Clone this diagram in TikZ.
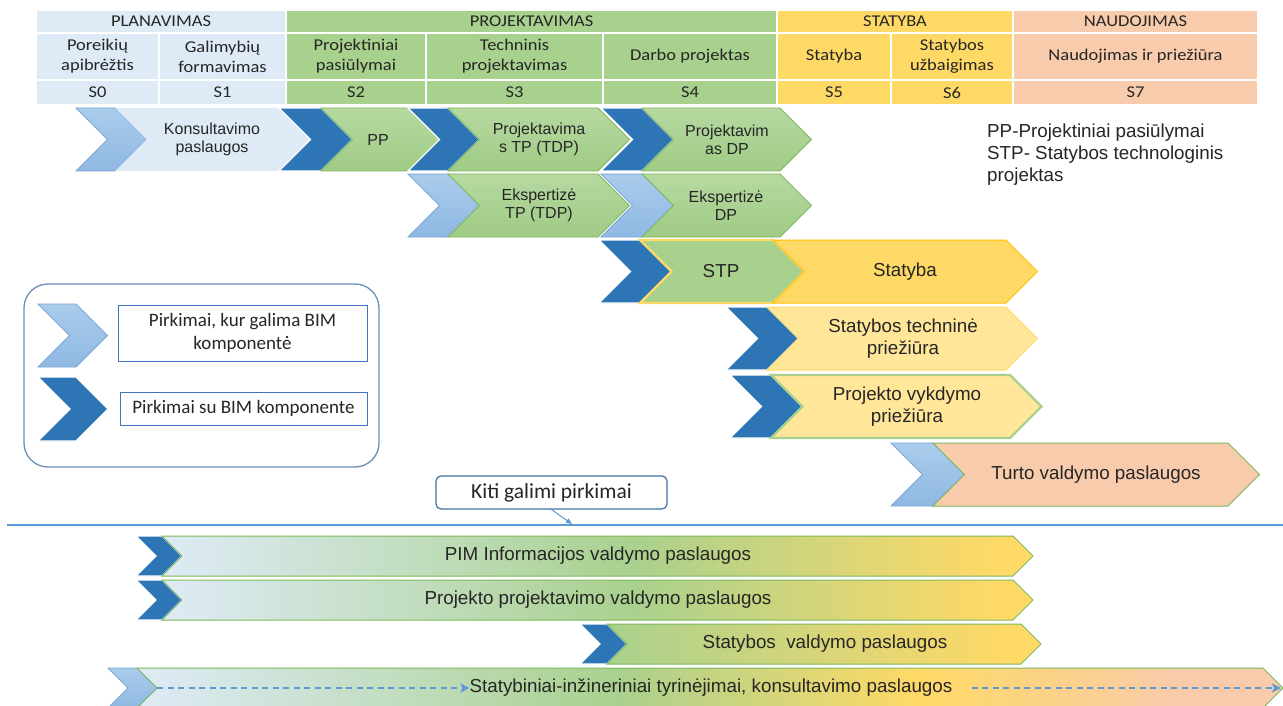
\documentclass[tikz,border=0pt]{standalone}
\usepackage{fontspec}
\setmainfont{Liberation Sans}
\newfontfamily\calfont{Carlito}
\newfontfamily\calwide[FakeStretch=1.12]{Carlito}
\usetikzlibrary{arrows.meta}
\definecolor{hBlue}{HTML}{DEEBF7}
\definecolor{hGreen}{HTML}{A9D18E}
\definecolor{hYellow}{HTML}{FFD966}
\definecolor{hPeach}{HTML}{F8CBAD}
\definecolor{chDark}{HTML}{2E75B6}
\definecolor{chLightT}{HTML}{AACCEC}
\definecolor{chLightB}{HTML}{8FB8E2}
\definecolor{chLightD}{HTML}{7AA6D8}
\definecolor{grTop}{HTML}{B6D9A1}
\definecolor{grBot}{HTML}{A0CB85}
\definecolor{grLine}{HTML}{7DB95A}
\definecolor{yeLine}{HTML}{FFC000}
\definecolor{lYellow}{HTML}{FFE699}
\definecolor{txtc}{HTML}{262626}
\definecolor{arrBlue}{HTML}{5B9BD5}
\definecolor{legLine}{HTML}{6D8EB6}
\definecolor{boxLine}{HTML}{4472C4}
\definecolor{kitiLine}{HTML}{41719C}
\pgfdeclarehorizontalshading{gradA}{100bp}{color(0bp)=(hBlue); color(25bp)=(hBlue); color(52bp)=(hGreen); color(73bp)=(hYellow); color(100bp)=(hYellow)}
\pgfdeclarehorizontalshading{gradB}{100bp}{color(0bp)=(hGreen); color(25bp)=(hGreen); color(71bp)=(hYellow); color(100bp)=(hYellow)}
\pgfdeclarehorizontalshading{gradC}{100bp}{color(0bp)=(hBlue); color(25bp)=(hBlue); color(46bp)=(hGreen); color(59bp)=(hYellow); color(71bp)=(hPeach); color(100bp)=(hPeach)}
\newcommand{\mychev}[5]{\path[#1] (#2,#4) -- (#3,#4) -- ({#3+(#5-#4)/2},{(#4+#5)/2}) -- (#3,#5) -- (#2,#5) -- ({#2+(#5-#4)/2},{(#4+#5)/2}) -- cycle;}
\tikzset{
  hcell/.style={draw=white, line width=1.5pt, inner sep=0pt, align=center, text=txtc, font=\calwide\fontsize{16.5}{20}\selectfont},
  darkch/.style={fill=chDark, draw=white, line width=1.2pt},
  lightch/.style={top color=chLightT, bottom color=chLightB, draw=chLightD, line width=0.8pt},
  konssh/.style={fill=hBlue},
  greensh/.style={top color=grTop, bottom color=grBot, draw=grLine, line width=0.9pt},
  stpsh/.style={fill=hGreen, draw=hYellow, line width=2.2pt},
  statsh/.style={fill=hYellow, draw=yeLine, line width=1pt},
  lysh/.style={fill=lYellow, draw=hYellow, line width=1pt},
  pvsh/.style={fill=lYellow, draw=hGreen, line width=2.2pt},
  turtosh/.style={fill=hPeach, draw=grLine, line width=1pt},
  barsh/.style={shading=#1, shade, draw=grLine, line width=1pt},
  txA/.style={font=\fontsize{16}{18.4}\selectfont, text=txtc, align=center, inner sep=0pt},
  txB/.style={font=\fontsize{18.8}{21.6}\selectfont, text=txtc, align=center, inner sep=0pt},
  notetx/.style={font=\fontsize{18.8}{21.6}\selectfont, text=txtc, inner sep=0pt, anchor=base west},
  legbox/.style={draw=boxLine, line width=1pt, fill=white, inner sep=0pt, align=center, text=txtc, font=\calfont\fontsize{19}{23}\selectfont},
  dasharr/.style={draw=arrBlue, line width=1.8pt, dash pattern=on 6pt off 4.5pt, -{Stealth[length=9pt,width=9pt,inset=2pt]}}
}
\begin{document}
\begin{tikzpicture}[x=1pt,y=-1pt]
\clip (0,0) rectangle (1283,706);
\fill[white] (0,0) rectangle (1283,706);
% ---------- header ----------
\node[hcell, fill=hBlue,   minimum width=250pt, minimum height=23pt] (hPlan) at (161,21.5) {PLANAVIMAS};
\node[hcell, fill=hGreen,  minimum width=491pt, minimum height=23pt] (hProj) at (531.5,21.5) {PROJEKTAVIMAS};
\node[hcell, fill=hYellow, minimum width=236pt, minimum height=23pt] (hStat) at (895,21.5) {STATYBA};
\node[hcell, fill=hPeach,  minimum width=245pt, minimum height=23pt] (hNaud) at (1135.5,21.5) {NAUDOJIMAS};
\node[hcell, fill=hBlue,   minimum width=123pt, minimum height=47pt] (s0) at (97.5,56.5) {Poreikių\\apibrėžtis};
\node[hcell, fill=hBlue,   minimum width=127pt, minimum height=47pt] (s1) at (222.5,56.5) {Galimybių\\formavimas};
\node[hcell, fill=hGreen,  minimum width=140pt, minimum height=47pt] (s2) at (356,56.5) {Projektiniai\\pasiūlymai};
\node[hcell, fill=hGreen,  minimum width=177pt, minimum height=47pt] (s3) at (514.5,56.5) {Techninis\\projektavimas};
\node[hcell, fill=hGreen,  minimum width=174pt, minimum height=47pt] (s4) at (690,56.5) {Darbo projektas};
\node[hcell, fill=hYellow, minimum width=114pt, minimum height=47pt] (s5) at (834,56.5) {Statyba};
\node[hcell, fill=hYellow, minimum width=122pt, minimum height=47pt] (s6) at (952,56.5) {Statybos\\užbaigimas};
\node[hcell, fill=hPeach,  minimum width=245pt, minimum height=47pt] (s7) at (1135.5,56.5) {Naudojimas ir priežiūra};
\node[hcell, fill=hBlue,   minimum width=123pt, minimum height=25pt] (n0) at (97.5,92.5) {S0};
\node[hcell, fill=hBlue,   minimum width=127pt, minimum height=25pt] (n1) at (222.5,92.5) {S1};
\node[hcell, fill=hGreen,  minimum width=140pt, minimum height=25pt] (n2) at (356,92.5) {S2};
\node[hcell, fill=hGreen,  minimum width=177pt, minimum height=25pt] (n3) at (514.5,92.5) {S3};
\node[hcell, fill=hGreen,  minimum width=174pt, minimum height=25pt] (n4) at (690,92.5) {S4};
\node[hcell, fill=hYellow, minimum width=114pt, minimum height=25pt] (n5) at (834,92.5) {S5};
\node[hcell, fill=hYellow, minimum width=122pt, minimum height=25pt] (n6) at (952,92.5) {S6};
\node[hcell, fill=hPeach,  minimum width=245pt, minimum height=25pt] (n7) at (1135.5,92.5) {S7};
% ---------- row 1 ----------
\mychev{lightch}{76}{115}{108}{171}
\mychev{konssh}{115}{279}{108}{171}
\mychev{darkch}{279}{321}{108}{171}
\mychev{greensh}{321}{408}{108}{171}
\mychev{darkch}{408}{448}{108}{171}
\mychev{greensh}{448}{598}{108}{171}
\mychev{darkch}{601}{642}{108}{171}
\mychev{greensh}{642}{780}{108}{171}
\node[txA] (tKons) at (212,139.5) {Konsultavimo\\paslaugos};
\node[txA] (tPP) at (378,139.5) {PP};
\node[txA] (tTP) at (539,139.5) {Projektavima\\s TP (TDP)};
\node[txA] (tDP) at (727,139.5) {Projektavim\\as DP};
% ---------- row 2 ----------
\mychev{lightch}{408}{448}{174}{237}
\mychev{greensh}{448}{598}{174}{237}
\mychev{lightch}{601}{642}{174}{237}
\mychev{greensh}{642}{780}{174}{237}
\node[txA] (tETP) at (539,205.5) {Ekspertizė\\TP (TDP)};
\node[txA] (tEDP) at (726,205.5) {Ekspertizė\\DP};
% ---------- row 3 ----------
\mychev{darkch}{599}{640}{240}{303}
\mychev{stpsh}{640}{773}{240}{303}
\mychev{statsh}{773}{1006}{240}{303}
\node[txB] (tSTP) at (721,271.5) {STP};
\node[txB] (tStat) at (905,271.5) {Statyba};
% ---------- row 4 ----------
\mychev{darkch}{726}{767}{307}{370}
\mychev{lysh}{767}{1006}{307}{370}
\node[txB] (tSTech) at (903,338.5) {Statybos techninė\\priežiūra};
% ---------- row 5 ----------
\mychev{darkch}{730}{771}{375}{438}
\mychev{pvsh}{771}{1010}{375}{438}
\node[txB] (tPV) at (907,406.5) {Projekto vykdymo\\priežiūra};
% ---------- row 6 ----------
\mychev{lightch}{891}{933}{443}{506}
\mychev{turtosh}{933}{1228}{443}{506}
\node[txB] (tTurto) at (1096,474.5) {Turto valdymo paslaugos};
% ---------- note ----------
\node[notetx] (note1) at (987,138) {PP-Projektiniai pasiūlymai};
\node[notetx] (note2) at (987,160) {STP- Statybos technologinis};
\node[notetx] (note3) at (987,182) {projektas};
% ---------- legend ----------
\node[draw=legLine, line width=1.3pt, rounded corners=24pt, minimum width=355pt, minimum height=183pt, inner sep=0pt] (legend) at (201.5,375.5) {};
\mychev{lightch}{38}{76}{304}{367}
\mychev{darkch}{38}{76}{377}{441}
\node[legbox, minimum width=249pt, minimum height=56pt] (leg1) at (242.5,333) {Pirkimai, kur galima BIM\\komponentė};
\node[legbox, minimum width=247pt, minimum height=33pt] (leg2) at (243.5,408.5) {Pirkimai su BIM komponente};
% ---------- separator ----------
\coordinate (lineL) at (7,525);
\coordinate (lineR) at (1283,525);
\draw[arrBlue, line width=1.5pt] (lineL) -- (lineR);
\node[draw=kitiLine, line width=1.2pt, rounded corners=5pt, fill=white, minimum width=231pt, minimum height=33pt, inner sep=0pt, text=txtc, font=\calfont\fontsize{21.5}{25}\selectfont] (kiti) at (551.5,492.5) {Kiti galimi pirkimai};
\coordinate (hit) at (572,524);
\draw[arrBlue, line width=1pt, -{Triangle[length=6pt,width=5pt]}] (kiti.south) -- (hit);
% ---------- bottom bars ----------
\mychev{darkch}{136}{162}{536}{576}
\mychev{barsh=gradA}{162}{1013}{536}{576}
\node[txB] (tPIM) at (598,556) {PIM Informacijos valdymo paslaugos};
\mychev{darkch}{136}{162}{580}{620}
\mychev{barsh=gradA}{162}{1013}{580}{620}
\node[txB] (tPPV) at (598,600) {Projekto projektavimo valdymo paslaugos};
\mychev{darkch}{580}{607}{624}{664}
\mychev{barsh=gradB}{607}{1021}{624}{664}
\node[txB] (tSVP) at (825,644) {Statybos\ \ valdymo paslaugos};
\mychev{lightch}{108}{137}{668}{708}
\mychev{barsh=gradC}{137}{1263}{668}{708}
\node[txB] (tSIT) at (711,688) {Statybiniai-inžineriniai tyrinėjimai, konsultavimo paslaugos};
\coordinate (dashS) at (157,688);
\coordinate (dashE) at (1281,688);
\draw[dasharr] (dashS) -- (tSIT.west);
\draw[dasharr] ([xshift=19pt]tSIT.east) -- (dashE);
\end{tikzpicture}
\end{document}
